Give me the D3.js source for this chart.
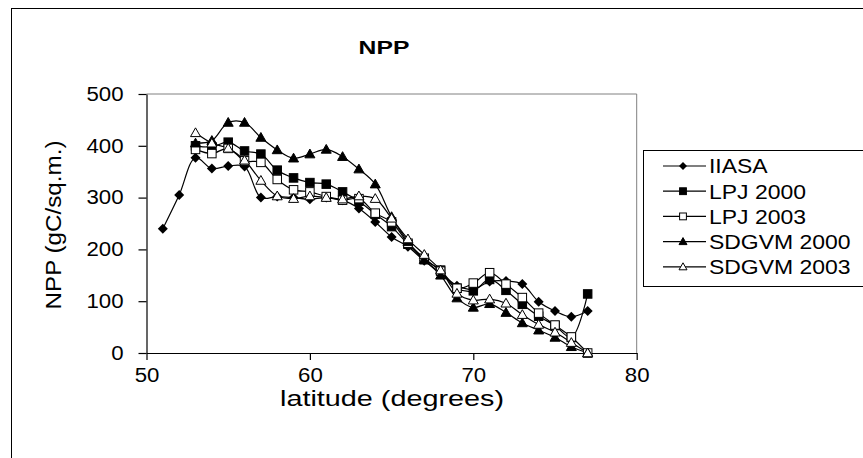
<!DOCTYPE html>
<html>
<head>
<meta charset="utf-8">
<script src="https://cdn.jsdelivr.net/npm/d3@7"></script>
<style>
  html, body { margin: 0; padding: 0; background: #fff; }
  svg { display: block; font-family: "Liberation Sans", Arial, sans-serif; }
</style>
</head>
<body>
<div id="chart"></div>
<script>
// latitude (degrees)
const latitudes = [51, 52, 53, 54, 55, 56, 57, 58, 59, 60, 61, 62, 63, 64, 65, 66, 67, 68, 69, 70, 71, 72, 73, 74, 75, 76, 77];

// NPP (gC/sq.m.) per series
const iiasa = [240, 305, 377, 356, 361, 360, 300, 302, 300, 297, 300, 295, 279, 253, 224, 205, 178, 155, 130, 123, 138, 139, 133, 99, 81, 70, 81];
const lpj2000 = [null, null, 400, 398, 407, 390, 384, 353, 338, 329, 326, 311, 293, 268, 244, 210, 180, 160, 125, 120, 142, 121, 94, 71, 53, 30, 114];
const lpj2003 = [null, null, 393, 385, 395, 371, 368, 335, 315, 311, 302, 295, 298, 270, 253, 212, 183, 158, 125, 135, 155, 133, 107, 77, 54, 31, 0];
const sdgvm2000 = [null, null, 405, 410, 445, 445, 416, 392, 376, 384, 393, 379, 355, 326, 263, 215, 180, 150, 106, 88, 95, 78, 58, 44, 30, 12, 0];
const sdgvm2003 = [null, null, 425, 405, 395, 372, 333, 303, 298, 303, 300, 297, 303, 298, 260, 220, 190, 160, 115, 102, 104, 96, 74, 55, 40, 20, 0];

const seriesNames = ['IIASA', 'LPJ 2000', 'LPJ 2003', 'SDGVM 2000', 'SDGVM 2003'];
const seriesValues = [iiasa, lpj2000, lpj2003, sdgvm2000, sdgvm2003];
const seriesMarkers = ['diamond', 'square', 'squareOpen', 'triangle', 'triangleOpen'];

const xTicks = [50, 60, 70, 80];
const yTicks = [0, 100, 200, 300, 400, 500];

const W = 863, H = 458;
const plot = { left: 146.5, right: 636.7, top: 94, bottom: 353 };

const svg = d3.select('#chart').append('svg')
    .attr('width', W)
    .attr('height', H);

// Text in the original is a bit wider than Arial - stretch horizontally around its anchor
function stretch(sel, sx) {
    sel.each(function () {
        const t = d3.select(this);
        const tx = +t.attr('x') || 0;
        const ty = +t.attr('y') || 0;
        const prev = t.attr('transform') || '';
        t.attr('x', 0).attr('y', 0)
            .attr('transform', `${prev} translate(${tx},${ty}) scale(${sx},1)`);
    });
}

// chart frame
svg.append('rect')
    .attr('x', 11.5).attr('y', 8.5)
    .attr('width', W + 20).attr('height', H + 20)
    .attr('fill', '#fff')
    .attr('stroke', '#000')
    .attr('stroke-width', 1);

const x = d3.scaleLinear().domain([50, 80]).range([plot.left, plot.right]);
const y = d3.scaleLinear().domain([0, 500]).range([plot.bottom, plot.top]);

// plot area border (grey top + right)
svg.append('path')
    .attr('d', `M${plot.left},${plot.top}H${plot.right}V${plot.bottom}`)
    .attr('fill', 'none')
    .attr('stroke', '#808080')
    .attr('stroke-width', 1);

// axes
const xAxis = svg.append('g')
    .attr('transform', `translate(0,${plot.bottom})`)
    .call(d3.axisBottom(x).tickValues(xTicks).tickSize(7).tickPadding(6).tickSizeOuter(0));

const yAxis = svg.append('g')
    .attr('transform', `translate(${plot.left},0)`)
    .call(d3.axisLeft(y).tickValues(yTicks).tickSize(8).tickPadding(15).tickSizeOuter(0));

[xAxis, yAxis].forEach(ax => {
    ax.select('.domain').attr('stroke', '#000').attr('stroke-width', 1.2);
    ax.selectAll('.tick line').attr('stroke', '#000').attr('stroke-width', 1.2);
    ax.selectAll('.tick text')
        .attr('fill', '#000')
        .style('font-size', '19.5px')
        .style('font-family', '"Liberation Sans", Arial, sans-serif');
});
xAxis.selectAll('.tick text').attr('dy', '0.82em');
stretch(xAxis.selectAll('.tick text'), 1.14);
stretch(yAxis.selectAll('.tick text'), 1.14);

// titles
svg.append('text')
    .attr('x', 384).attr('y', 54)
    .attr('text-anchor', 'middle')
    .style('font-size', '19px')
    .style('font-weight', 'bold')
    .text('NPP')
    .call(stretch, 1.3);

svg.append('text')
    .attr('x', 392).attr('y', 406)
    .attr('text-anchor', 'middle')
    .style('font-size', '22.5px')
    .text('latitude (degrees)')
    .call(stretch, 1.28);

svg.append('text')
    .attr('transform', 'translate(61,225) rotate(-90)')
    .attr('text-anchor', 'middle')
    .style('font-size', '22px')
    .text('NPP (gC/sq.m.)')
    .call(stretch, 1.1);

// markers
function drawMarker(g, type, cx, cy, s) {
    if (type === 'diamond') {
        g.append('path')
            .attr('d', `M${cx},${cy - s}L${cx + s},${cy}L${cx},${cy + s}L${cx - s},${cy}Z`)
            .attr('fill', '#000');
    } else if (type === 'square' || type === 'squareOpen') {
        const h = s * 0.85;
        g.append('rect')
            .attr('x', cx - h).attr('y', cy - h)
            .attr('width', 2 * h).attr('height', 2 * h)
            .attr('fill', type === 'square' ? '#000' : '#fff')
            .attr('stroke', '#000').attr('stroke-width', 1);
    } else {
        g.append('path')
            .attr('d', `M${cx},${cy - s}L${cx + s},${cy + s * 0.75}L${cx - s},${cy + s * 0.75}Z`)
            .attr('fill', type === 'triangle' ? '#000' : '#fff')
            .attr('stroke', '#000').attr('stroke-width', 1);
    }
}

const line = d3.line()
    .defined(d => d.v !== null)
    .x(d => x(d.lat))
    .y(d => y(d.v))
    .curve(d3.curveCatmullRom.alpha(0.5));

const seriesG = svg.append('g');
seriesValues.forEach((vals, i) => {
    const pts = latitudes.map((lat, j) => ({ lat: lat, v: vals[j] })).filter(d => d.v !== null);
    seriesG.append('path')
        .datum(pts)
        .attr('d', line)
        .attr('fill', 'none')
        .attr('stroke', '#000')
        .attr('stroke-width', 1.2);
});
seriesValues.forEach((vals, i) => {
    const g = seriesG.append('g');
    latitudes.forEach((lat, j) => {
        if (vals[j] === null) return;
        drawMarker(g, seriesMarkers[i], x(lat), y(vals[j]), 5);
    });
});

// legend
const legend = svg.append('g');
legend.append('rect')
    .attr('x', 643.5).attr('y', 150.5)
    .attr('width', 260).attr('height', 136)
    .attr('fill', '#fff')
    .attr('stroke', '#000')
    .attr('stroke-width', 1);

seriesNames.forEach((name, i) => {
    const cy = 166 + i * 25.2;
    legend.append('line')
        .attr('x1', 663).attr('x2', 706)
        .attr('y1', cy).attr('y2', cy)
        .attr('stroke', '#000').attr('stroke-width', 1.2);
    drawMarker(legend, seriesMarkers[i], 683, cy, 4);
    legend.append('text')
        .attr('x', 709).attr('y', cy)
        .attr('dy', '0.36em')
        .style('font-size', '20.5px')
        .text(name)
        .call(stretch, 1.12);
});
</script>
</body>
</html>
